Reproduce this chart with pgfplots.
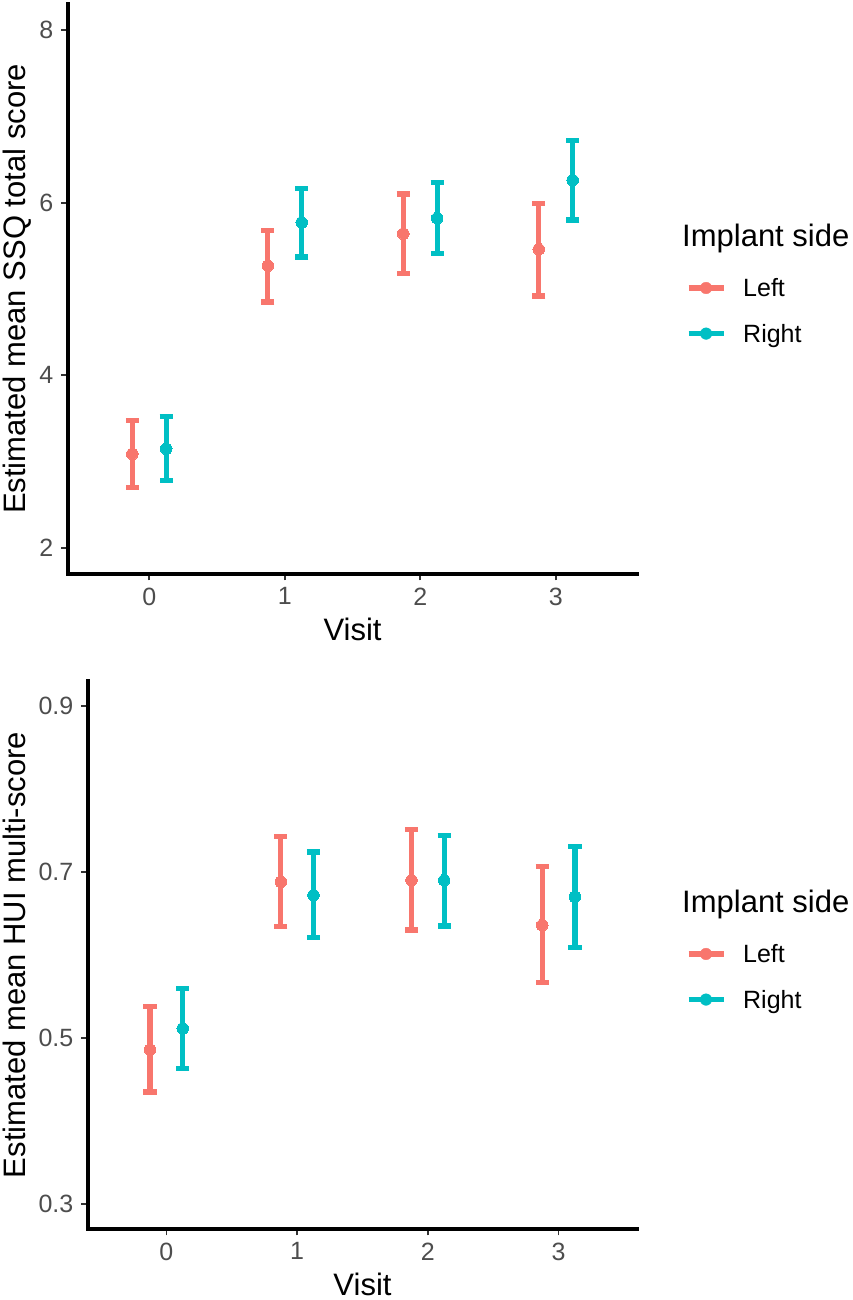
\documentclass[border=0pt]{standalone}
\usepackage{pgfplots}
\pgfplotsset{compat=1.18}
\usepackage{fontspec}
\setmainfont{Liberation Sans}
\definecolor{cL}{HTML}{F8766D}
\definecolor{cR}{HTML}{00BFC4}
\definecolor{tickgrey}{HTML}{4D4D4D}
\definecolor{tickline}{HTML}{333333}

\pgfplotsset{
  gg/.style={
    scale only axis,
    axis lines=left,
    axis line style={-, line width=4.6pt, black, line cap=rect},
    tick align=outside,
    major tick length=6.5pt,
    every tick/.style={line width=1.8pt, tickline},
    xmin=-0.6, xmax=3.6,
    xtick={0,1,2,3},
    xticklabels={0,1,2,3},
    tick label style={font=\fontsize{25}{30}\selectfont, text=tickgrey, inner sep=0pt},
    xticklabel style={anchor=north, yshift=-7pt},
    yticklabel style={anchor=east, xshift=-8pt},
    label style={font=\fontsize{31}{37}\selectfont},
    xlabel style={at={(axis description cs:0.5,0)}, anchor=base, inner sep=0pt},
    ylabel style={anchor=north, inner sep=0pt},
    xlabel={Visit},
    legend style={draw=none, fill=none, inner sep=0pt, outer sep=0pt,
      font=\fontsize{25}{30}\selectfont, row sep=26pt,
      nodes={inner sep=0pt, anchor=base west},
      /tikz/every odd column/.append style={column sep=17pt}},
    legend cell align=left,
  },
  sL/.style={forget plot, only marks, mark=*, mark size=5.8pt, color=cL,
    mark options={fill=cL, draw=cL, line width=0pt},
    error bars/.cd, y dir=both, y explicit,
    error bar style={line width=5.3pt, cL},
    error mark=-, error mark options={line width=5.3pt, mark size=6.6pt, cL, rotate=90},
    /pgfplots/.cd},
  sR/.style={forget plot, only marks, mark=*, mark size=5.8pt, color=cR,
    mark options={fill=cR, draw=cR, line width=0pt},
    error bars/.cd, y dir=both, y explicit,
    error bar style={line width=5.3pt, cR},
    error mark=-, error mark options={line width=5.3pt, mark size=6.6pt, cR, rotate=90},
    /pgfplots/.cd},
  keyL/.style={legend image code/.code={
    \draw[cL, line width=5.3pt] (0pt,9pt) -- (35pt,9pt);
    \fill[cL] (17.5pt,9pt) circle (5.8pt);}},
  keyR/.style={legend image code/.code={
    \draw[cR, line width=5.3pt] (0pt,9pt) -- (35pt,9pt);
    \fill[cR] (17.5pt,9pt) circle (5.8pt);}},
}

\begin{document}
\begin{tikzpicture}[x=1pt,y=1pt]
\useasboundingbox (0,0) rectangle (853,1300);

% ---------- top panel ----------
\begin{axis}[gg,
  at={(68pt,726pt)}, anchor=south west,
  width=569pt, height=570pt,
  ymin=1.7, ymax=8.3,
  ytick={2,4,6,8}, yticklabels={2,4,6,8},
  ylabel={Estimated mean SSQ total score},
  xlabel style={yshift=-67pt},
  ylabel style={at={(axis description cs:-0.1142,0.5)}},
  legend style={at={(1.086,0.4605)}, anchor=west},
]
\addplot+[sL] coordinates {
  (-0.125,3.09) += (0,0.39) -= (0,0.39)
  (0.875,5.27)  += (0,0.41) -= (0,0.42)
  (1.875,5.64)  += (0,0.46) -= (0,0.46)
  (2.875,5.46)  += (0,0.53) -= (0,0.54)
};
\addplot+[sR] coordinates {
  (0.125,3.15) += (0,0.37) -= (0,0.37)
  (1.125,5.77) += (0,0.39) -= (0,0.40)
  (2.125,5.82) += (0,0.41) -= (0,0.41)
  (3.125,6.26) += (0,0.46) -= (0,0.46)
};
\addlegendimage{keyL}\addlegendentry{Left}
\addlegendimage{keyR}\addlegendentry{Right}
\end{axis}
\node[anchor=base west, inner sep=0pt, font=\fontsize{31}{37}\selectfont] at (682,1053) {Implant side};

% ---------- bottom panel ----------
\begin{axis}[gg,
  at={(88pt,71pt)}, anchor=south west,
  width=549pt, height=548pt,
  ymin=0.27, ymax=0.93,
  ytick={0.3,0.5,0.7,0.9}, yticklabels={0.3,0.5,0.7,0.9},
  ylabel={Estimated mean HUI multi-score},
  xlabel style={yshift=-66pt},
  ylabel style={at={(axis description cs:-0.1548,0.5)}},
  legend style={at={(1.089,0.459)}, anchor=west},
]
\addplot+[sL] coordinates {
  (-0.125,0.486) += (0,0.052) -= (0,0.051)
  (0.875,0.688)  += (0,0.055) -= (0,0.054)
  (1.875,0.690)  += (0,0.061) -= (0,0.060)
  (2.875,0.636)  += (0,0.071) -= (0,0.069)
};
\addplot+[sR] coordinates {
  (0.125,0.5115) += (0,0.0485) -= (0,0.0485)
  (1.125,0.672)  += (0,0.052) -= (0,0.051)
  (2.125,0.690)  += (0,0.054) -= (0,0.055)
  (3.125,0.670)  += (0,0.061) -= (0,0.061)
};
\addlegendimage{keyL}\addlegendentry{Left}
\addlegendimage{keyR}\addlegendentry{Right}
\end{axis}
\node[anchor=base west, inner sep=0pt, font=\fontsize{31}{37}\selectfont] at (682,387) {Implant side};
\end{tikzpicture}
\end{document}
